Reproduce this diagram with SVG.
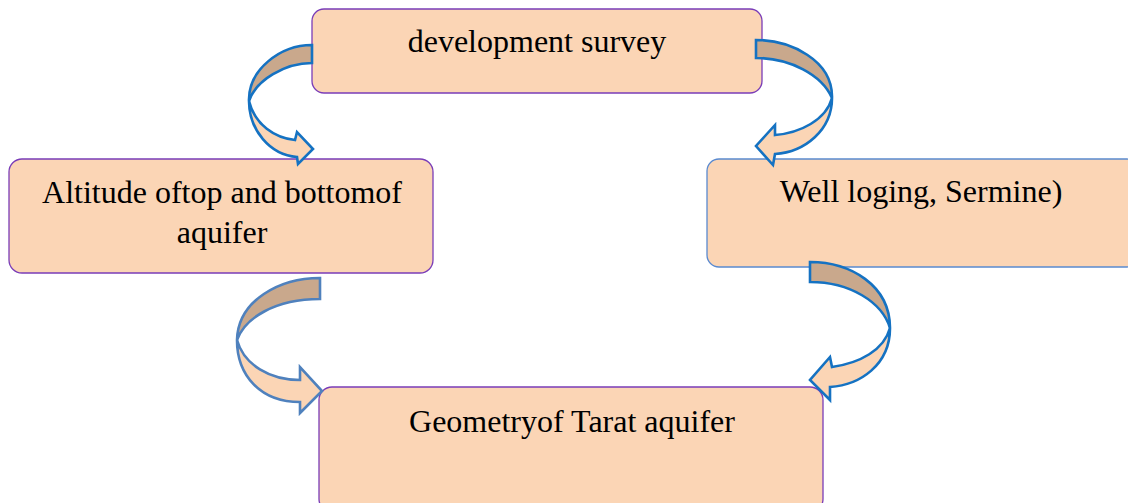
<svg xmlns="http://www.w3.org/2000/svg" width="1128" height="503" viewBox="0 0 1128 503">
<style>
.box{fill:#FBD5B5;stroke:#7A3DB8;stroke-width:1.3}
.box2{fill:#FBD5B5;stroke:#5A8AD0;stroke-width:1.3}
.lbl{font-family:"Liberation Serif","Times New Roman",serif;font-size:32px;fill:#000;text-anchor:middle}
.back{fill:#C9A88C;stroke:#1572C2;stroke-width:2.6;stroke-linejoin:miter}
.front{fill:#FBD5B5;stroke:#1572C2;stroke-width:2.6;stroke-linejoin:miter}
.back3{fill:#C9A88C;stroke:#4F81BD;stroke-width:2.6}
.front3{fill:#FBD5B5;stroke:#4F81BD;stroke-width:2.6}
</style>
<rect width="1128" height="503" fill="#fff"/>
<g id="node-development">
<rect class="box" x="312" y="9" width="450" height="84" rx="12"/>
<text class="lbl" x="537" y="52">development survey</text>
</g>
<g id="node-altitude">
<rect class="box" x="9" y="159" width="424" height="114" rx="13"/>
<text class="lbl" x="222" y="203">Altitude oftop and bottomof</text>
<text class="lbl" x="222" y="243">aquifer</text>
</g>
<g id="node-well">
<rect class="box2" x="707" y="159" width="432" height="108" rx="12"/>
<text class="lbl" x="921" y="202">Well loging, Sermine)</text>
</g>
<g id="node-geometry">
<rect class="box" x="319" y="387" width="504" height="125" rx="13"/>
<text class="lbl" x="572" y="432">Geometryof Tarat aquifer</text>
</g>
<g id="connectors">
<!-- top-left -->
<path class="back" d="M312,45 C280,45 248,70 249,101 C256,80 285,63 312,63 Z"/>
<path class="front" d="M249,101 C249,130 270,155 297,157 L298,164 L313,149 L297,132 L295,140 C275,138 255,125 249,101 Z"/>
<!-- top-right -->
<path class="back" d="M756,40 C790,40 833,60 832,98 C822,75 790,58 756,58 Z"/>
<path class="front" d="M832,98 C832,130 805,152 775,154 L773,165 L756,146 L775,125 L775,135 C800,133 826,120 832,98 Z"/>
<!-- bottom-left -->
<path class="back3" d="M320,278 C280,278 238,300 237,340 C245,318 275,299 320,299 Z"/>
<path class="front3" d="M237,340 C237,375 260,402 300,402 L300,413 L322,391 L300,367 L300,380 C270,380 244,365 237,340 Z"/>
<!-- bottom-right -->
<path class="back" d="M810,262 C850,262 890,285 890,328 C882,302 850,282 810,282 Z"/>
<path class="front" d="M890,328 C890,365 860,385 830,387 L830,400 L810,380 L830,357 L832,367 C860,363 884,350 890,328 Z"/>
</g>
</svg>
